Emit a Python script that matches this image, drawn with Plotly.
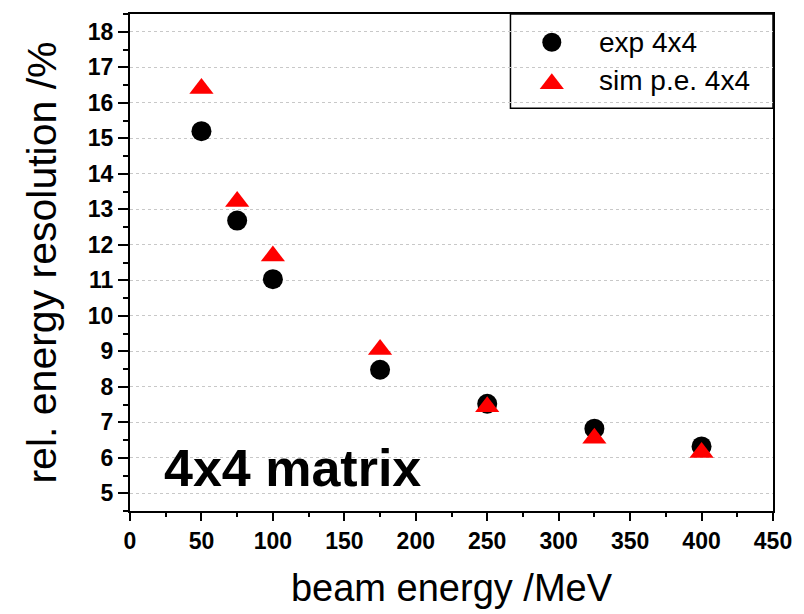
import plotly.graph_objects as go

# ---- data ----
beam_energy = [50, 75, 100, 175, 250, 325, 400]
exp_4x4 = [15.2, 12.68, 11.03, 8.48, 7.52, 6.82, 6.32]
sim_pe_4x4 = [16.4, 13.22, 11.68, 9.05, 7.44, 6.55, 6.15]
series_names = ["exp 4x4", "sim p.e. 4x4"]
x_ticks = [0, 50, 100, 150, 200, 250, 300, 350, 400, 450]
y_ticks = list(range(5, 19))

FONT = "Liberation Sans, Arial, sans-serif"

fig = go.Figure()
fig.add_trace(go.Scatter(x=beam_energy, y=exp_4x4, mode="markers", name=series_names[0],
                         marker=dict(symbol="circle", size=20, color="black"), cliponaxis=False))
fig.add_trace(go.Scatter(x=beam_energy, y=sim_pe_4x4, mode="markers", name=series_names[1],
                         marker=dict(symbol="triangle-up", size=21, color="#ff0000"), cliponaxis=False))

# manual legend (keys on an overlay 0..1 axis)
fig.add_trace(go.Scatter(x=[0.656], y=[0.943], mode="markers", xaxis="x2", yaxis="y2",
                         marker=dict(symbol="circle", size=19, color="black"),
                         showlegend=False, hoverinfo="skip", cliponaxis=False))
fig.add_trace(go.Scatter(x=[0.656], y=[0.8597], mode="markers", xaxis="x2", yaxis="y2",
                         marker=dict(symbol="triangle-up", size=21, color="#ff0000"),
                         showlegend=False, hoverinfo="skip", cliponaxis=False))

fig.add_shape(type="rect", xref="paper", yref="paper", x0=0.5917, x1=1.0, y0=0.8104, y1=1.0,
              line=dict(color="black", width=1.5), fillcolor="white", layer="between")
fig.add_annotation(xref="paper", yref="paper", x=0.7257, y=0.942, xanchor="left", yanchor="middle",
                   text=series_names[0], showarrow=False, font=dict(family=FONT, size=28, color="black"))
fig.add_annotation(xref="paper", yref="paper", x=0.7257, y=0.866, xanchor="left", yanchor="middle",
                   text=series_names[1], showarrow=False, font=dict(family=FONT, size=28, color="black"))

fig.add_annotation(xref="paper", yref="paper", x=0.0493, y=0.0858, xanchor="left", yanchor="middle",
                   text="<b>4x4 matrix</b>", showarrow=False, font=dict(family=FONT, size=52, color="black"))

fig.update_layout(
    width=804, height=614,
    margin=dict(l=130, r=24, t=12, b=101),
    paper_bgcolor="white", plot_bgcolor="white",
    showlegend=False,
    font=dict(family=FONT, color="black"),
    xaxis=dict(
        range=[0, 450], tickmode="array", tickvals=x_ticks,
        ticks="outside", ticklen=8, tickwidth=2, tickcolor="black",
        minor=dict(ticks="outside", ticklen=4, tickwidth=1.5, tickcolor="black", dtick=25, showgrid=False),
        showline=True, linewidth=2, linecolor="black", mirror=True,
        showgrid=False, zeroline=False,
        tickfont=dict(family=FONT, size=23, color="black", weight="bold"),
        title=dict(text="beam energy /MeV", font=dict(family=FONT, size=38, color="black"), standoff=22),
    ),
    yaxis=dict(
        range=[4.5, 18.5], tickmode="array", tickvals=y_ticks,
        ticks="outside", ticklen=10, tickwidth=2, tickcolor="black",
        minor=dict(ticks="outside", ticklen=5, tickwidth=1.5, tickcolor="black", dtick=0.5, showgrid=False),
        showline=True, linewidth=2, linecolor="black", mirror=True,
        showgrid=True, gridcolor="#c8c8c8", griddash="dot", gridwidth=1, zeroline=False,
        tickfont=dict(family=FONT, size=23, color="black", weight="bold"),
        title=dict(text="rel. energy resolution /%", font=dict(family=FONT, size=41, color="black"), standoff=18),
    ),
    xaxis2=dict(overlaying="x", range=[0, 1], visible=False),
    yaxis2=dict(overlaying="y", range=[0, 1], visible=False),
)

fig.write_html("out.html")
